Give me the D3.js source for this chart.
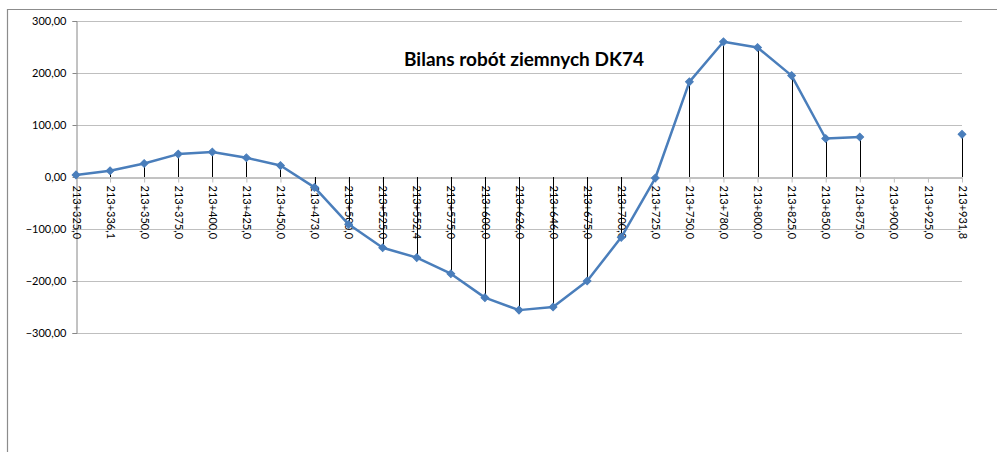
<!DOCTYPE html>
<html lang="pl">
<head>
  <meta charset="UTF-8">
  <title>Bilans robót ziemnych DK74</title>
  <script src="https://d3js.org/d3.v7.min.js"></script>
  <style>
    * { margin: 0; padding: 0; }
    body { background: #fff; font-family: Lato, 'Open Sans', sans-serif; }
    .grid line { stroke: #bfbfbf; stroke-width: 1; }
    .label { font-size: 11px; fill: #000; }
    .title { font-size: 19px; font-weight: bold; }
  </style>
</head>
<body>
  <svg id="chart" width="997" height="452"></svg>
  <script>
    // pikietaz (kategorie osi X)
    var categories = ["213+325,0", "213+336,1", "213+350,0", "213+375,0", "213+400,0", "213+425,0",
      "213+450,0", "213+473,0", "213+500,0", "213+525,0", "213+552,4", "213+575,0", "213+600,0",
      "213+626,0", "213+646,0", "213+675,0", "213+700,0", "213+725,0", "213+750,0", "213+780,0",
      "213+800,0", "213+825,0", "213+850,0", "213+875,0", "213+900,0", "213+925,0", "213+931,8"];
    // bilans mas ziemnych (brak danych = null)
    var values = [4, 12, 26, 44, 48, 37, 22, -20, -91, -136, -155, -186, -232, -256, -250, -200,
      -116, -2, 183, 260, 249, 195, 74, 77, null, null, 82];
    var yTicks = [-300, -200, -100, 0, 100, 200, 300];

    var svg = d3.select("#chart");
    var pLeft = 76, pRight = 962, pTop = 21, pBottom = 333;

    // ramka wykresu
    svg.append("path")
      .attr("d", "M7.5,452 V9.5 H997")
      .attr("fill", "none").attr("stroke", "#8c8c8c").attr("stroke-width", 1.2);

    var x = d3.scalePoint().domain(categories).range([pLeft, pRight]);
    var y = d3.scaleLinear().domain([-300, 300]).range([pBottom, pTop]);
    var fmt = function(d) { return d3.format(".2f")(d).replace(".", ","); };

    // linie siatki
    svg.append("g").attr("class", "grid")
      .selectAll("line").data(yTicks.filter(function(d) { return d !== 0; }))
      .enter().append("line")
      .attr("x1", pLeft).attr("x2", pRight)
      .attr("y1", function(d) { return Math.round(y(d)) + 0.5; })
      .attr("y2", function(d) { return Math.round(y(d)) + 0.5; });

    // os Y
    var yAxis = svg.append("g")
      .attr("transform", "translate(" + (pLeft + 0.5) + ",0)")
      .call(d3.axisLeft(y).tickValues(yTicks).tickFormat(fmt).tickSize(4).tickPadding(6));
    yAxis.select(".domain").attr("stroke", "#868686");
    yAxis.selectAll(".tick line").attr("stroke", "#868686");
    yAxis.selectAll("text").attr("class", "label").style("font-family", "Lato, sans-serif").style("font-size", "11px");

    // os X przy zerze
    var xAxis = svg.append("g")
      .attr("transform", "translate(0," + (Math.round(y(0)) + 0.5) + ")")
      .call(d3.axisBottom(x).tickSize(5).tickSizeOuter(0).tickPadding(0));
    xAxis.select(".domain").attr("stroke", "#868686");
    xAxis.selectAll(".tick line").attr("stroke", "#bdbdbd");
    xAxis.selectAll("text")
      .attr("class", "label")
      .style("font-family", "Lato, sans-serif").style("font-size", "11px")
      .attr("text-anchor", "start")
      .attr("transform", "rotate(90)")
      .attr("x", 8).attr("y", 0).attr("dy", "0.35em");

    var pts = categories.map(function(c, i) { return { c: c, v: values[i] }; });
    var valid = pts.filter(function(d) { return d.v !== null; });

    // linie opadania
    svg.append("g").selectAll("line").data(valid).enter().append("line")
      .attr("x1", function(d) { return Math.round(x(d.c)) + 0.5; })
      .attr("x2", function(d) { return Math.round(x(d.c)) + 0.5; })
      .attr("y1", function(d) { return y(d.v); })
      .attr("y2", y(0))
      .attr("stroke", "#000").attr("stroke-width", 1);

    // linia serii
    var line = d3.line()
      .defined(function(d) { return d.v !== null; })
      .x(function(d) { return x(d.c); })
      .y(function(d) { return y(d.v); });
    svg.append("path").datum(pts)
      .attr("d", line)
      .attr("fill", "none").attr("stroke", "#4a7ebb").attr("stroke-width", 2.5)
      .attr("stroke-linejoin", "round");

    // znaczniki (romby)
    svg.append("g").selectAll("path").data(valid).enter().append("path")
      .attr("d", d3.symbol().type(d3.symbolSquare).size(30))
      .attr("transform", function(d) { return "translate(" + x(d.c) + "," + y(d.v) + ") rotate(45)"; })
      .attr("fill", "#4a7ebb").attr("stroke", "#4a7ebb").attr("stroke-width", 1);

    // tytul
    svg.append("text").attr("class", "title")
      .attr("x", 524).attr("y", 66).attr("text-anchor", "middle")
      .text("Bilans robót ziemnych DK74");
  </script>
</body>
</html>
